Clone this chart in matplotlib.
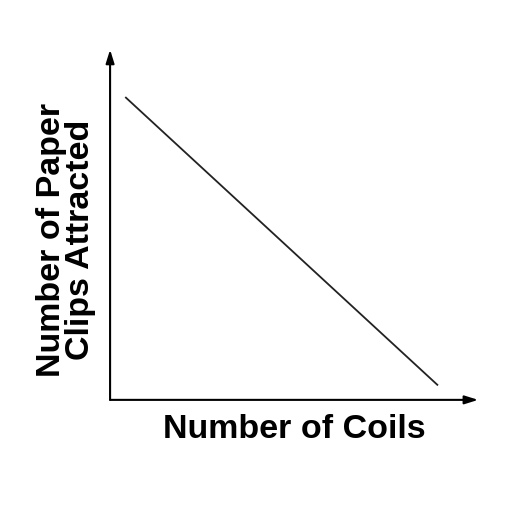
import matplotlib
matplotlib.use("Agg")
import matplotlib.pyplot as plt

plt.rcParams["font.family"] = ["Liberation Sans", "DejaVu Sans"]

# idealised trend: clips attracted fall as coils increase
coils = [0.43, 8.89]
clips = [8.63, 0.43]

x_label = "Number of Coils"
y_label = "Number of Paper\nClips Attracted"

fig = plt.figure(figsize=(5.12, 5.12), dpi=100)
ax = fig.add_axes([0.215, 0.219, 0.719, 0.684])
ax.set_xlim(0, 10)
ax.set_ylim(0, 10)

ax.plot(coils, clips, color="#222222", linewidth=1.3)

for side in ["top", "right", "left", "bottom"]:
    ax.spines[side].set_visible(False)
ax.set_xticks([])
ax.set_yticks([])

# axes drawn as arrows
arrow = dict(arrowstyle="-|>,head_length=0.8,head_width=0.25", color="black",
             linewidth=1.5, shrinkA=0, shrinkB=0)
ax.annotate("", xy=(1, 0), xytext=(0, 0), xycoords="axes fraction", arrowprops=arrow)
ax.annotate("", xy=(0, 1), xytext=(0, 0), xycoords="axes fraction", arrowprops=arrow)

fig.text(0.574, 0.162, x_label, ha="center", va="center", fontsize=24.5, fontweight="bold")
fig.text(0.129, 0.531, y_label, ha="center", va="center", fontsize=24.5, fontweight="bold",
         rotation=90, linespacing=0.95)

plt.savefig("out.png", dpi=100)
